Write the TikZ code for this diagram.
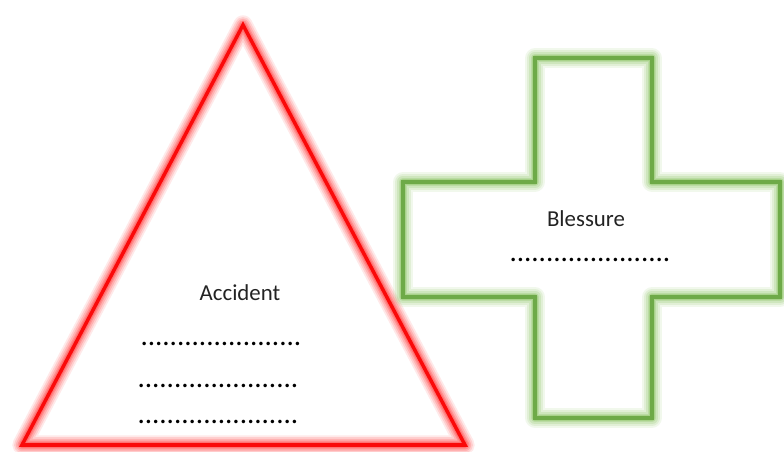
\documentclass[tikz,border=0pt]{standalone}
\usepackage{fontspec}
\setmainfont{Carlito}
\usetikzlibrary{positioning}
\definecolor{warnred}{RGB}{250,10,10}
\definecolor{haloRed}{RGB}{255,70,70}
\definecolor{aidgreen}{RGB}{110,170,72}
\definecolor{haloGreen}{RGB}{140,195,100}
\definecolor{txtgray}{RGB}{35,35,35}
\tikzset{
  redline/.style  ={draw=warnred, line width=2pt, line join=miter},
  greenline/.style={draw=aidgreen, line width=2.4pt, line join=miter},
  halo/.style     ={line width=#1, line join=round},
  lbl/.style      ={font=\fontsize{13}{15}\selectfont, text=txtgray, inner sep=0pt},
  dots/.style     ={font=\fontsize{16.5}{18}\selectfont, text=black, inner sep=0pt},
}
\newcommand{\dotrow}{......................}

\begin{document}
\begin{tikzpicture}[x=0.02cm, y=-0.02cm]
  \useasboundingbox (0,0) rectangle (784,452);

  % triangle
  \coordinate (top) at (243,25);
  \coordinate (bl)  at (22,445);
  \coordinate (br)  at (465,445);
  % cross
  \coordinate (c1)  at (535,58);
  \coordinate (c2)  at (652,58);
  \coordinate (c3)  at (652,182);
  \coordinate (c4)  at (780,182);
  \coordinate (c5)  at (780,297);
  \coordinate (c6)  at (652,297);
  \coordinate (c7)  at (652,418);
  \coordinate (c8)  at (535,418);
  \coordinate (c9)  at (535,297);
  \coordinate (c10) at (403,297);
  \coordinate (c11) at (403,182);
  \coordinate (c12) at (535,182);

  % glow
  \foreach \w/\o in {11pt/0.12, 9pt/0.16, 7pt/0.22, 5pt/0.3, 3.5pt/0.4}{
    \draw[halo=\w, draw=haloRed, draw opacity=\o] (top) -- (bl) -- (br) -- cycle;
    \draw[halo=\w, draw=haloGreen, draw opacity=\o]
      (c1) -- (c2) -- (c3) -- (c4) -- (c5) -- (c6) -- (c7) -- (c8)
      -- (c9) -- (c10) -- (c11) -- (c12) -- cycle;
  }

  \draw[redline] (top) -- (bl) -- (br) -- cycle;
  \draw[greenline] (c1) -- (c2) -- (c3) -- (c4) -- (c5) -- (c6) -- (c7) -- (c8)
    -- (c9) -- (c10) -- (c11) -- (c12) -- cycle;

  % texts
  \node[lbl]  (acc)  at (240,293) {Accident};
  \node[dots] (acc1) at (221,344) {\dotrow};
  \node[dots] (acc2) at (218,386) {\dotrow};
  \node[dots] (acc3) at (218,422) {\dotrow};

  \node[lbl]  (bles)  at (586,219) {Blessure};
  \node[dots] (bles1) at (590,260) {\dotrow};
\end{tikzpicture}
\end{document}
